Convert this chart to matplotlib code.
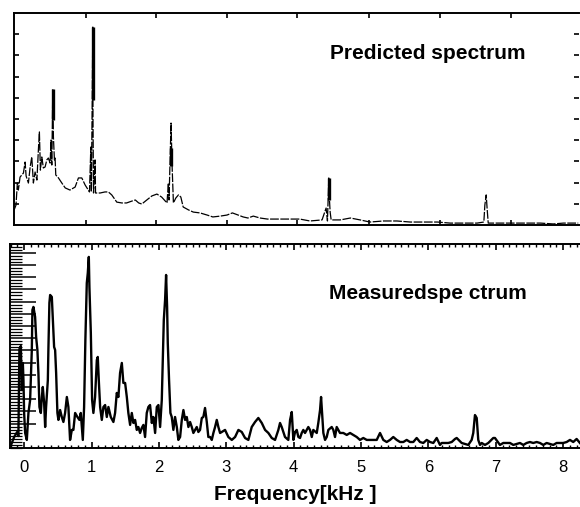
import matplotlib
matplotlib.use("Agg")
import matplotlib.pyplot as plt
from matplotlib.ticker import MultipleLocator

plt.rcParams['font.family'] = ['Liberation Sans', 'DejaVu Sans']

# predicted spectrum (kHz, arbitrary amplitude 0..10)
pred_f = [-0.148, -0.12, -0.10, -0.085, -0.06, -0.01, 0.015, 0.03, 0.064, 0.09,
          0.114, 0.138, 0.163, 0.19, 0.212, 0.227, 0.242, 0.263, 0.286, 0.312,
          0.337, 0.36, 0.386, 0.40, 0.411, 0.426, 0.435, 0.45, 0.46, 0.47,
          0.51, 0.56, 0.61, 0.68, 0.757, 0.806, 0.856, 0.905, 0.97, 0.99,
          0.998, 1.02, 1.022, 1.03, 1.053, 1.06, 1.128, 1.20, 1.25, 1.30,
          1.375, 1.45, 1.52, 1.60, 1.65, 1.70, 1.746, 1.82, 1.895, 1.97,
          2.04, 2.12, 2.14, 2.15, 2.18, 2.196, 2.215, 2.25, 2.29, 2.325,
          2.36, 2.44, 2.51, 2.61, 2.715, 2.80, 2.91, 3.01, 3.09, 3.175,
          3.25, 3.32, 3.40, 3.50, 3.61, 3.75, 3.95, 4.09, 4.24, 4.42,
          4.48, 4.50, 4.52, 4.53, 4.54, 4.555, 4.69, 4.84, 4.985, 5.13,
          5.33, 5.53, 5.73, 5.92, 6.13, 6.32, 6.51, 6.72, 6.82, 6.835,
          6.855, 6.87, 6.885, 7.06, 7.21, 7.40, 7.66, 7.85, 8.0, 8.22]
pred_a = [0.71, 0.94, 1.98, 1.65, 2.26, 2.45, 2.97, 2.31, 1.98, 2.74,
          3.21, 1.98, 2.50, 2.12, 3.54, 4.39, 2.59, 3.21, 2.69, 2.74,
          3.07, 3.16, 2.92, 4.01, 2.83, 6.42, 4.15, 3.07, 3.16, 2.36,
          2.22, 1.98, 1.75, 1.65, 1.79, 2.22, 2.22, 1.89, 1.56, 3.68,
          1.56, 9.34, 5.09, 1.51, 3.07, 1.51, 1.51, 1.56, 1.56, 1.42,
          1.08, 1.04, 1.04, 1.13, 1.18, 1.04, 0.99, 1.18, 1.37, 1.46,
          1.32, 1.04, 1.98, 1.18, 4.81, 2.74, 1.04, 1.27, 1.42, 1.32,
          0.85, 0.71, 0.61, 0.57, 0.47, 0.38, 0.42, 0.47, 0.57, 0.47,
          0.38, 0.33, 0.42, 0.33, 0.28, 0.28, 0.28, 0.28, 0.19, 0.24,
          0.80, 0.19, 2.22, 1.18, 0.61, 0.24, 0.24, 0.33, 0.24, 0.14,
          0.19, 0.19, 0.14, 0.14, 0.14, 0.09, 0.09, 0.09, 0.14, 0.94,
          1.42, 0.71, 0.09, 0.09, 0.09, 0.09, 0.09, 0.05, 0.09, 0.09]

# heavy parts of the predicted lines
spike_f = [0.426, 1.02, 2.18, 4.52]
spike_lo = [4.95, 5.90, 2.80, 1.18]
spike_hi = [6.42, 9.34, 3.63, 2.22]

# measured spectrum (kHz, arbitrary amplitude)
meas_f = [-0.20, -0.148, -0.104, -0.085, -0.07, -0.049, -0.034, -0.019, -0.01, 0.0,
          0.015, 0.04, 0.064, 0.089, 0.114, 0.123, 0.138, 0.163, 0.178, 0.197,
          0.212, 0.227, 0.248, 0.263, 0.277, 0.297, 0.312, 0.326, 0.352, 0.36,
          0.375, 0.386, 0.411, 0.426, 0.445, 0.46, 0.475, 0.485, 0.494, 0.509,
          0.534, 0.559, 0.583, 0.608, 0.634, 0.657, 0.682, 0.708, 0.731, 0.757,
          0.791, 0.82, 0.841, 0.871, 0.89, 0.909, 0.93, 0.945, 0.96, 0.969,
          0.99, 1.009, 1.028, 1.053, 1.079, 1.093, 1.108, 1.128, 1.153, 1.177,
          1.202, 1.227, 1.251, 1.286, 1.325, 1.35, 1.375, 1.399, 1.424, 1.45,
          1.473, 1.499, 1.524, 1.547, 1.573, 1.598, 1.622, 1.647, 1.672, 1.696,
          1.721, 1.746, 1.77, 1.795, 1.82, 1.844, 1.869, 1.895, 1.918, 1.944,
          1.969, 1.993, 2.018, 2.043, 2.058, 2.073, 2.092, 2.107, 2.122, 2.132,
          2.151, 2.171, 2.191, 2.215, 2.24, 2.266, 2.289, 2.315, 2.34, 2.364,
          2.389, 2.414, 2.438, 2.463, 2.488, 2.512, 2.537, 2.562, 2.586, 2.611,
          2.637, 2.66, 2.685, 2.711, 2.734, 2.76, 2.785, 2.809, 2.834, 2.859,
          2.883, 2.908, 2.933, 2.982, 3.031, 3.082, 3.131, 3.18, 3.23, 3.279,
          3.328, 3.378, 3.427, 3.476, 3.527, 3.576, 3.625, 3.675, 3.724, 3.773,
          3.798, 3.823, 3.872, 3.921, 3.947, 3.972, 3.996, 4.021, 4.046, 4.07,
          4.095, 4.12, 4.144, 4.169, 4.194, 4.218, 4.243, 4.269, 4.292, 4.343,
          4.366, 4.392, 4.407, 4.426, 4.441, 4.466, 4.491, 4.515, 4.565, 4.589,
          4.614, 4.639, 4.688, 4.737, 4.788, 4.837, 4.886, 4.936, 4.985, 5.034,
          5.085, 5.134, 5.233, 5.282, 5.331, 5.381, 5.43, 5.479, 5.53, 5.579,
          5.628, 5.678, 5.727, 5.776, 5.826, 5.875, 5.924, 5.975, 6.024, 6.073,
          6.123, 6.172, 6.197, 6.295, 6.346, 6.395, 6.42, 6.494, 6.592, 6.642,
          6.666, 6.691, 6.717, 6.73, 6.74, 6.766, 6.791, 6.84, 6.889, 6.963,
          6.988, 7.062, 7.111, 7.211, 7.26, 7.359, 7.408, 7.458, 7.507, 7.556,
          7.607, 7.656, 7.705, 7.755, 7.853, 7.903, 7.953, 8.001, 8.052, 8.101,
          8.15, 8.2, 8.249]
meas_a = [0.16, 0.90, 1.31, 0.98, 8.11, 8.36, 4.75, 6.97, 5.57, 2.87,
          1.23, 0.66, 2.87, 3.93, 8.03, 11.31, 11.56, 10.74, 9.10, 8.03,
          6.15, 3.36, 2.87, 4.18, 5.00, 3.69, 1.72, 3.36, 5.57, 8.03,
          11.89, 12.54, 12.38, 10.49, 8.28, 8.03, 6.15, 4.51, 2.87, 2.30,
          3.11, 2.54, 2.13, 2.87, 4.18, 3.36, 0.66, 1.48, 1.48, 2.87,
          2.54, 2.30, 2.87, 0.66, 3.36, 8.85, 13.52, 14.34, 15.66, 13.20,
          9.43, 3.93, 2.87, 4.18, 7.21, 7.46, 5.57, 3.36, 2.30, 3.36,
          3.52, 2.54, 3.36, 2.54, 2.13, 2.87, 4.51, 4.18, 6.15, 6.97,
          5.33, 5.33, 4.18, 2.87, 1.89, 2.87, 2.05, 2.30, 1.48, 1.72,
          1.23, 1.64, 1.89, 0.90, 2.87, 3.36, 3.52, 2.05, 2.54, 1.23,
          3.36, 3.52, 1.72, 3.93, 7.21, 10.49, 12.13, 14.18, 11.56, 8.61,
          5.57, 2.87, 2.54, 1.48, 2.54, 1.72, 0.66, 0.90, 2.30, 3.11,
          2.30, 2.54, 1.72, 2.13, 1.72, 1.23, 1.48, 1.72, 1.31, 1.48,
          2.46, 2.54, 3.28, 2.13, 0.90, 0.90, 0.66, 1.23, 1.72, 2.30,
          1.72, 1.23, 1.31, 1.48, 0.90, 0.66, 0.90, 1.48, 1.31, 0.82,
          0.66, 1.72, 2.13, 2.46, 2.05, 1.48, 1.23, 0.82, 0.66, 1.48,
          2.05, 1.72, 0.90, 0.66, 2.30, 2.95, 0.66, 1.31, 1.48, 0.90,
          0.82, 1.23, 1.48, 1.23, 1.48, 1.72, 1.48, 0.90, 1.48, 1.23,
          2.05, 3.11, 4.18, 2.54, 1.23, 0.66, 0.90, 1.48, 1.72, 1.48,
          0.90, 1.72, 1.23, 1.23, 1.07, 1.23, 1.07, 0.90, 0.66, 0.82,
          0.66, 0.66, 0.66, 1.23, 0.66, 0.49, 0.66, 0.90, 0.66, 0.49,
          0.49, 0.66, 0.49, 0.49, 0.82, 0.49, 0.41, 0.66, 0.49, 0.41,
          0.82, 0.25, 0.41, 0.41, 0.49, 0.74, 0.82, 0.41, 0.25, 0.66,
          1.23, 2.70, 2.46, 1.48, 0.66, 0.25, 0.41, 0.25, 0.41, 0.82,
          0.82, 0.25, 0.41, 0.41, 0.25, 0.41, 0.25, 0.41, 0.49, 0.41,
          0.49, 0.41, 0.25, 0.41, 0.25, 0.41, 0.41, 0.41, 0.49, 0.66,
          0.49, 0.74, 0.41]

freq_ticks = [0, 1, 2, 3, 4, 5, 6, 7, 8]
freq_labels = ["0", "1", "2", "3", "4", "5", "6", "7", "8"]
pred_ticks = [0.92, 1.96, 3.01, 4.05, 5.12, 6.17, 7.22]

fig = plt.figure(figsize=(5.8, 5.07), dpi=100)

# top panel
ax1 = fig.add_axes([0.0241, 0.5562, 0.974, 0.4181])
ax1.plot(pred_f, pred_a, color="black", linewidth=0.9, linestyle=(0, (7, 1.2)))
ax1.vlines(spike_f, spike_lo, spike_hi, color="black", linewidth=2.4)
ax1.set_xlim(-0.15, 8.23)
ax1.set_ylim(0, 10)
ax1.spines["right"].set_visible(False)
for s in ["top", "bottom", "left"]:
    ax1.spines[s].set_linewidth(1.4)
ax1.set_xticks(pred_ticks)
ax1.set_yticks(range(1, 10))
ax1.tick_params(axis="both", direction="in", length=3.5, width=1.2,
                top=True, bottom=True, left=True, right=True,
                labelbottom=False, labelleft=False)
ax1.text(5.99, 8.11, "Predicted spectrum", ha="center", va="center",
         fontsize=15, fontweight="bold")

# bottom panel
ax2 = fig.add_axes([0.0172, 0.1164, 0.9828, 0.4024])
ax2.plot(meas_f, meas_a, color="black", linewidth=1.7)
ax2.set_xlim(-0.21, 8.25)
ax2.set_ylim(0, 16.72)
ax2.spines["right"].set_visible(False)
for s in ["top", "bottom", "left"]:
    ax2.spines[s].set_linewidth(1.4)
ax2.set_xticks(freq_ticks)
ax2.set_xticklabels(freq_labels, fontsize=12)
ax2.xaxis.set_minor_locator(MultipleLocator(0.1))
ax2.set_yticks([2, 3, 4, 5, 6, 7, 8, 9, 10, 11, 12, 13, 14, 15, 16])
ax2.yaxis.set_minor_locator(MultipleLocator(0.25))
ax2.tick_params(axis="x", which="major", direction="in", length=4, width=1.2,
                top=True, bottom=True, pad=9)
ax2.tick_params(axis="x", which="minor", direction="in", length=2.2, width=1.0,
                top=True, bottom=True)
ax2.tick_params(axis="y", which="major", direction="in", length=19, width=1.1,
                labelleft=False)
ax2.tick_params(axis="y", which="minor", direction="in", length=8.6, width=0.9)
ax2.text(5.99, 12.7, "Measuredspe ctrum", ha="center", va="center",
         fontsize=15, fontweight="bold")
ax2.set_xlabel("Frequency[kHz ]", fontsize=15, fontweight="bold", labelpad=7)

fig.savefig("out.png", dpi=100)
